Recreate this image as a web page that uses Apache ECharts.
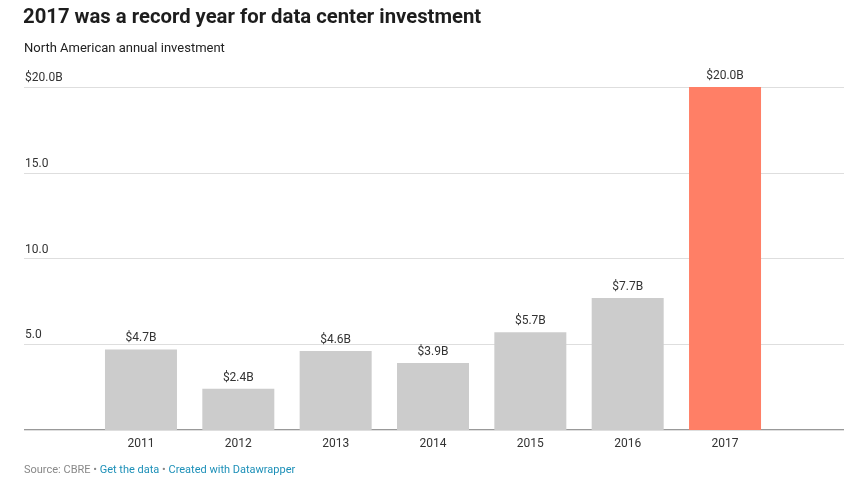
<!DOCTYPE html>
<html>
<head>
<meta charset="utf-8">
<script src="https://cdn.jsdelivr.net/npm/echarts@6/dist/echarts.min.js"></script>
<style>html,body{margin:0;padding:0;background:#fff}#c{width:844px;height:480px}</style>
</head>
<body>
<div id="c"></div>
<script>
var categories = ['2011', '2012', '2013', '2014', '2015', '2016', '2017'];
var investment = [4.7, 2.4, 4.6, 3.9, 5.7, 7.7, 20.0];
var barLabels = ['$4.7B', '$2.4B', '$4.6B', '$3.9B', '$5.7B', '$7.7B', '$20.0B'];
var yTicks = [5, 10, 15, 20];
var yTickLabels = {5: '5.0', 10: '10.0', 15: '15.0', 20: '$20.0B'};
var highlightYear = '2017';

var FONT = 'Roboto, "Noto Sans", sans-serif';
var chart = echarts.init(document.getElementById('c'), null, {renderer: 'canvas'});
chart.setOption({
  animation: false,
  textStyle: {fontFamily: FONT},
  grid: [
    {left: 24, right: 0, top: 87, bottom: 50, containLabel: false},
    {left: 92.3, right: 70.3, top: 87, bottom: 50, containLabel: false}
  ],
  xAxis: [
    {type: 'value', gridIndex: 0, min: 0, max: 1, show: false},
    {type: 'category', gridIndex: 1, data: categories,
      axisLine: {show: false}, axisTick: {show: false},
      axisLabel: {color: '#333', fontSize: 12, margin: 8, fontFamily: FONT}}
  ],
  yAxis: [
    {type: 'value', gridIndex: 0, min: 0, max: 20, interval: 5,
      axisLine: {show: false}, axisTick: {show: false},
      splitLine: {lineStyle: {color: '#dedede', width: 1}},
      axisLabel: {inside: true, align: 'left', verticalAlign: 'bottom', margin: 1,
        padding: [0, 0, 3, 0], color: '#333', fontSize: 12, fontFamily: FONT,
        formatter: function (v) { return yTickLabels[v] || ''; }}},
    {type: 'value', gridIndex: 1, min: 0, max: 20, interval: 5, show: false}
  ],
  graphic: [
    {type: 'text', left: 23, top: 8, style: {text: '2017 was a record year for data center investment',
      font: 'bold 20.3px ' + FONT, fill: '#1d1d1d'}},
    {type: 'text', left: 24, top: 42, style: {text: 'North American annual investment',
      font: '13px ' + FONT, fill: '#222'}},
    {type: 'line', shape: {x1: 24, y1: 430, x2: 844, y2: 430}, style: {stroke: '#333', lineWidth: 1}},
    {type: 'text', left: 24, top: 465, style: {
      text: '{g|Source: CBRE • }{b|Get the data}{g| • }{b|Created with Datawrapper}',
      rich: {g: {fill: '#888', fontSize: 11, fontFamily: FONT}, b: {fill: '#1d90b8', fontSize: 11, fontFamily: FONT}}}}
  ],
  series: [{
    type: 'bar', xAxisIndex: 1, yAxisIndex: 1, barWidth: 72,
    data: investment.map(function (v, i) {
      return {value: v, itemStyle: {color: categories[i] === highlightYear ? '#ff7f66' : '#cccccc'}};
    }),
    label: {show: true, position: 'top', distance: 5, color: '#333', fontSize: 12, fontFamily: FONT,
      formatter: function (p) { return barLabels[p.dataIndex]; }}
  }]
});
</script>
</body>
</html>
